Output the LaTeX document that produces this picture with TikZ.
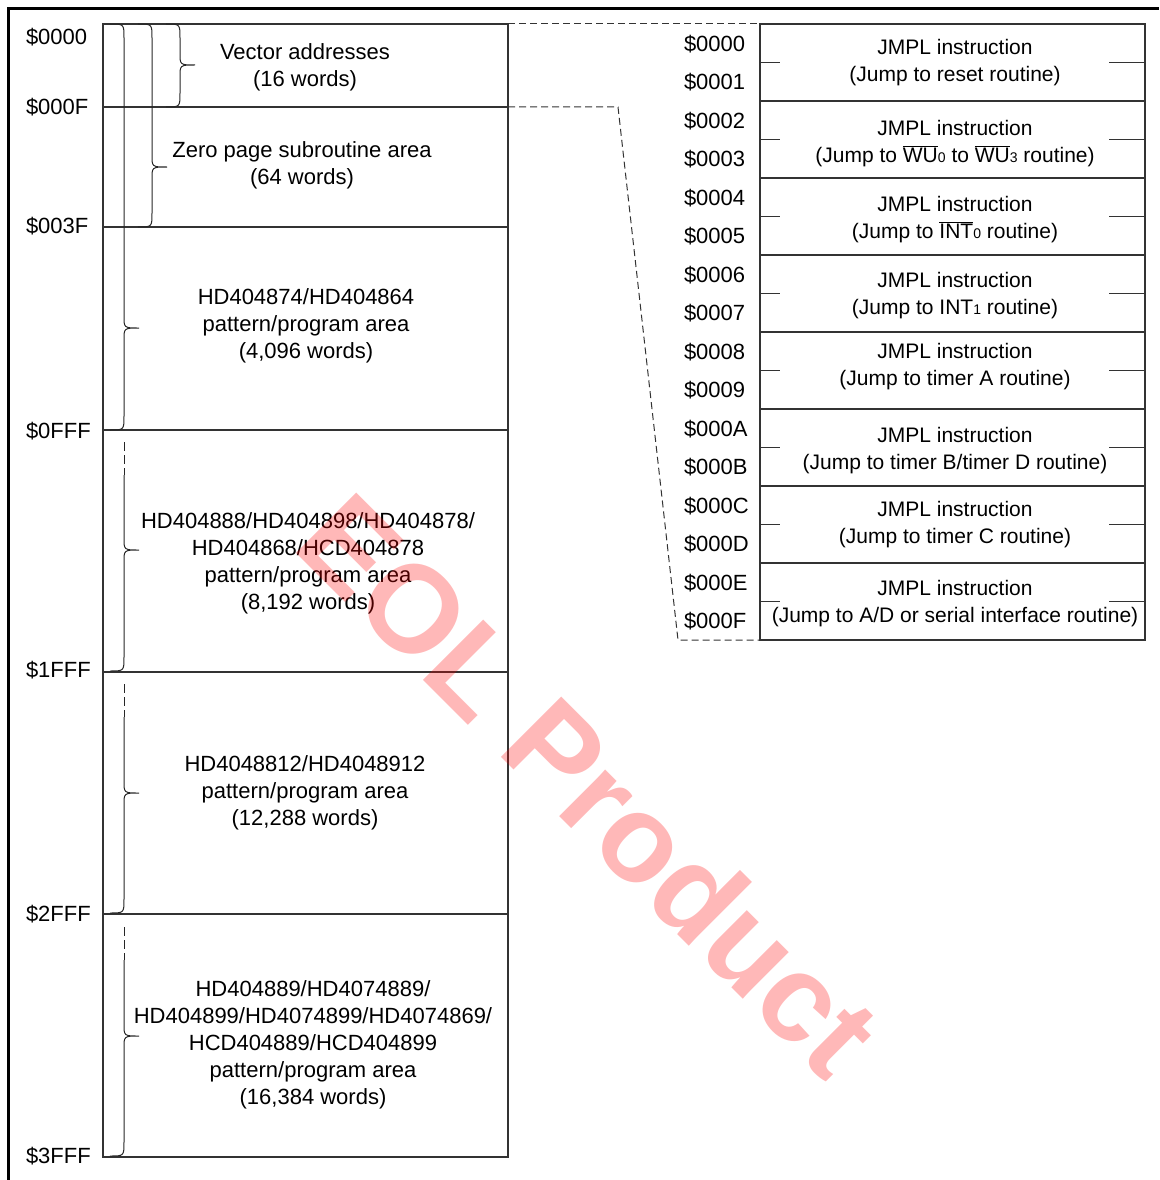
\documentclass[tikz,border=0pt]{standalone}
\usepackage{fontspec}
\setmainfont{Liberation Sans}
\newcommand\ovl[1]{$\overline{\hbox{#1}}$}
\newcommand\sm[1]{{\fontsize{14}{14}\selectfont #1}}
\newcommand{\mybrace}[4]{%
  \draw[bracel] ({#1-14},#2) .. controls (#1,#2) .. (#1,{#2+14}) -- (#1,{#3-12})
    .. controls (#1,#3) .. ({#1+15},#3) .. controls (#1,#3) .. (#1,{#3+12})
    -- (#1,{#4-14}) .. controls (#1,#4) .. ({#1-14},#4);}
\newcommand{\mybraced}[4]{%
  \draw[bracel, dash pattern=on 9pt off 4pt] (#1,#2) -- (#1,{#2+33});
  \draw[bracel] (#1,{#2+33}) -- (#1,{#3-12})
    .. controls (#1,#3) .. ({#1+15},#3) .. controls (#1,#3) .. (#1,{#3+12})
    -- (#1,{#4-14}) .. controls (#1,#4) .. ({#1-14},#4);}
\begin{document}
\begin{tikzpicture}[x=1pt,y=-1pt,
  every node/.style={inner sep=0pt, outer sep=0pt, font=\fontsize{22}{27}\selectfont},
  boxline/.style={line width=1.3pt, draw=black!80},
  bracel/.style={line width=1pt, draw=black!85},
  frameline/.style={line width=3pt, draw=black},
  dashline/.style={line width=1pt, dash pattern=on 7pt off 4pt, draw=black!80},
  addr/.style={anchor=base west},
  rtext/.style={align=center, font=\fontsize{21}{27}\selectfont},
  ltext/.style={align=center}]
\useasboundingbox (0,0) rectangle (1159,1180);

% frame
\draw[frameline] (8,1180) -- (8,9) -- (1159,9);

% left memory map
\draw[boxline] (103,24) rectangle (508,1157);
\foreach \y in {107,227,430,672,914} \draw[boxline] (103,\y) -- (508,\y);
\coordinate (LT) at (508,24);
\coordinate (LF) at (508,107);

% left address labels
\node[addr] (l0) at (26,45) {\$0000};
\node[addr] (l1) at (26,115) {\$000F};
\node[addr] (l2) at (26,233) {\$003F};
\node[addr] (l3) at (26,438) {\$0FFF};
\node[addr] (l4) at (26,677) {\$1FFF};
\node[addr] (l5) at (26,921) {\$2FFF};
\node[addr] (l6) at (26,1163) {\$3FFF};

% braces
\mybrace{180}{24}{65}{107}
\mybrace{152}{24}{167}{227}
\mybrace{124}{24}{328}{430}
\mybraced{124}{442}{550}{671}
\mybraced{124}{684}{793}{913}
\mybraced{124}{927}{1036}{1156}

% left texts
\node[ltext] (vec) at (305,67.5) {Vector addresses\\(16 words)};
\node[ltext] (zp) at (302,165.5) {Zero page subroutine area\\(64 words)};
\node[ltext] (a1) at (306,326) {HD404874/HD404864\\pattern/program area\\(4,096 words)};
\node[ltext] (a2) at (308,563.5) {HD404888/HD404898/HD404878/\\HD404868/HCD404878\\pattern/program area\\(8,192 words)};
\node[ltext] (a3) at (305,793) {HD4048812/HD4048912\\pattern/program area\\(12,288 words)};
\node[ltext] (a4) at (313,1044.5) {HD404889/HD4074889/\\HD404899/HD4074899/HD4074869/\\HCD404889/HCD404899\\pattern/program area\\(16,384 words)};

% right vector table
\draw[boxline] (760,24) rectangle (1145,640);
\foreach \i in {1,...,7} \draw[boxline] (760,{24+77*\i}) -- (1145,{24+77*\i});
\foreach \i in {0,...,7} {
  \draw[boxline] (760,{62.5+77*\i}) -- (780,{62.5+77*\i});
  \draw[boxline] (1109,{62.5+77*\i}) -- (1145,{62.5+77*\i});
}
\coordinate (RT) at (760,24);
\coordinate (RB) at (760,640);
\coordinate (K1) at (618,107);
\coordinate (K2) at (678,640);

\foreach \a [count=\i from 0] in {0000,0001,0002,0003,0004,0005,0006,0007,0008,0009,000A,000B,000C,000D,000E,000F}
  \node[addr] (ra\i) at (684,{43.25+38.5*\i+8}) {\$\a};

\node[rtext] (r0) at (955,62.5) {JMPL instruction\\(Jump to reset routine)};
\node[rtext] (r1) at (955,143.5) {JMPL instruction\\(Jump to \ovl{WU}\sm{0} to \ovl{WU}\sm{3} routine)};
\node[rtext] (r2) at (955,219.5) {JMPL instruction\\(Jump to \ovl{INT}\sm{0} routine)};
\node[rtext] (r3) at (955,295.5) {JMPL instruction\\(Jump to INT\sm{1} routine)};
\node[rtext] (r4) at (955,366.5) {JMPL instruction\\(Jump to timer A routine)};
\node[rtext] (r5) at (955,451) {JMPL instruction\\(Jump to timer B/timer D routine)};
\node[rtext] (r6) at (955,525) {JMPL instruction\\(Jump to timer C routine)};
\node[rtext] (r7) at (955,603.5) {JMPL instruction\\(Jump to A/D or serial interface routine)};

% dashed expansion lines
\draw[dashline] (LT) -- (RT);
\draw[dashline] (LF) -- (K1) -- (K2) -- (RB);

% watermark
\node[rotate=-45, text=red, text opacity=0.28, font=\fontsize{124}{124}\selectfont\bfseries] (wm) at (590,784) {EOL Product};
\end{tikzpicture}
\end{document}
